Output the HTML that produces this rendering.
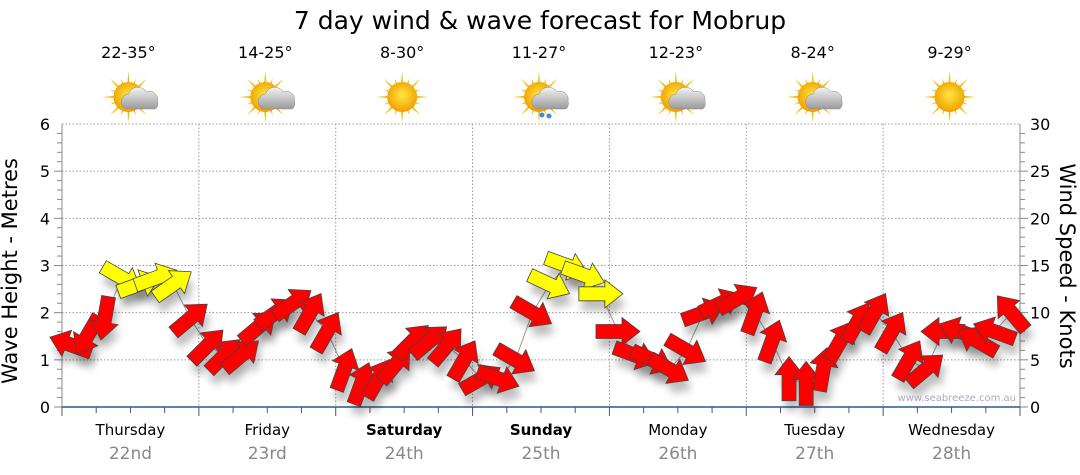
<!DOCTYPE html>
<html><head><meta charset="utf-8"><style>
body{margin:0;background:#fff;font-family:"DejaVu Sans","Liberation Sans",sans-serif;}
svg{display:block}
</style></head><body>
<svg id="c" width="1080" height="475">
<defs>
<filter id="sh" x="-50%" y="-50%" width="200%" height="200%"><feGaussianBlur stdDeviation="4"/></filter>
<radialGradient id="sun" cx="50%" cy="45%" r="55%"><stop offset="0" stop-color="#ffe640"/><stop offset="1" stop-color="#f0a000"/></radialGradient>
<linearGradient id="cl" x1="0" y1="0" x2="0" y2="1"><stop offset="0" stop-color="#f4f4f4"/><stop offset="1" stop-color="#9a9a9a"/></linearGradient>
</defs>
<text x="540" y="29" text-anchor="middle" font-size="25" fill="#000">7 day wind &amp; wave forecast for Mobrup</text>
<g id="grid"></g><g id="axes"></g><g id="icons"></g><g id="marks"></g>
<text x="12" y="266" transform="rotate(-90 17 266)" text-anchor="middle" font-size="21">Wave Height - Metres</text>
<text x="1060" y="266" transform="rotate(90 1060 266)" text-anchor="middle" font-size="21">Wind Speed - Knots</text>
<text x="1016" y="401" text-anchor="end" font-size="10" fill="#aab">www.seabreeze.com.au</text>
</svg>
<script>
const days=["Thursday","Friday","Saturday","Sunday","Monday","Tuesday","Wednesday"];
const dates=["22nd","23rd","24th","25th","26th","27th","28th"];
const temps=["22-35°","14-25°","8-30°","11-27°","12-23°","8-24°","9-29°"];
const icons=["cloud","cloud","sun","rain","cloud","cloud","sun"];
const leftTicks=[0,1,2,3,4,5,6];
const rightTicks=[0,5,10,15,20,25,30];
const windSpeed=[6.6,7.6,9.4,13.7,13,13.7,13,9.4, 6.5,5.5,5.5,8.5,10,11,10,8, 4,2.5,3,4.5,7,7,6.5,5, 3,3,5,10,13,15,14,12, 8,5.5,5,4,6,10,11,11.5, 10,7,3,2.5,4,7,9,10, 8,5,4,8,8,7,8,10];
const windDir=[200,120,100,30,-20,-20,-35,-40, -45,-45,-40,-40,-35,-35,-60,-60, -70,-70,-60,-50,-45,-40,-50,-60, -30,20,30,30,25,20,20,0, 0,20,25,30,30,-20,-25,-30, -70,-70,-90,-90,-80,-60,-60,-60, -60,-60,-40,180,200,210,200,230];
const X0=62,X1=1020,Y0=407,Y1=124,DW=(X1-X0)/7;
const ym=v=>Y0-(v/6)*(Y0-Y1), yk=v=>Y0-(v/30)*(Y0-Y1), xi=i=>X0+(i+0.5)*DW/8;
const NS="http://www.w3.org/2000/svg";
function mk(t,a,p){const e=document.createElementNS(NS,t);for(const k in a)e.setAttribute(k,a[k]);p.appendChild(e);return e;}
const g=document.getElementById('grid'),ax=document.getElementById('axes'),ic=document.getElementById('icons'),mg=document.getElementById('marks');
leftTicks.forEach((v,i)=>{const y=ym(v);
 if(v>0){const l=mk('line',{x1:X0,x2:X1,y1:y,y2:y,stroke:'#999','stroke-dasharray':'1.5,2'},g);}
 const t=mk('text',{x:50,y:y+6,'text-anchor':'end','font-size':16},ax);t.textContent=v;
 for(let m=0;m<5&&v<6;m++){const yy=ym(v+m*0.2);mk('line',{x1:X0-(m?5:8),x2:X0,y1:yy,y2:yy,stroke:'#888'},ax);}
});
rightTicks.forEach(v=>{const y=yk(v);const t=mk('text',{x:1030,y:y+6,'font-size':16},ax);t.textContent=v;
 for(let m=0;m<5&&v<30;m++){const yy=yk(v+m);mk('line',{x1:X1,x2:X1+(m?5:8),y1:yy,y2:yy,stroke:'#888'},ax);}});
mk('line',{x1:X0,x2:X0,y1:Y1,y2:Y0,stroke:'#888'},ax);mk('line',{x1:X1,x2:X1,y1:Y1,y2:Y0,stroke:'#888'},ax);
mk('line',{x1:X0,x2:X1,y1:Y0,y2:Y0,stroke:'#2a5a8a','stroke-width':1.5},ax);
for(let i=0;i<=28;i++){const x=X0+i*DW/4;mk('line',{x1:x,x2:x,y1:Y0,y2:Y0+(i%4?6:9),stroke:'#555'},ax);}
days.forEach((d,i)=>{const cx=X0+(i+0.5)*DW;
 if(i>0){const l=mk('line',{x1:X0+i*DW,x2:X0+i*DW,y1:Y1,y2:Y0,stroke:'#999','stroke-dasharray':'1.5,2'},g);}
 const t=mk('text',{x:cx,y:435,'text-anchor':'middle','font-size':15,'font-weight':(i==2||i==3)?'bold':'normal'},ax);t.textContent=d;
 const t2=mk('text',{x:cx,y:459,'text-anchor':'middle','font-size':17,fill:'#888'},ax);t2.textContent=dates[i];
 const t3=mk('text',{x:cx-2,y:58,'text-anchor':'middle','font-size':16},ic);t3.textContent=temps[i];
 const gi=mk('g',{transform:`translate(${cx-2},97)`},ic);
 for(let r=0;r<16;r++){const a=r*Math.PI/8,L=r%2?20:26;mk('polygon',{points:`${Math.cos(a-0.12)*11},${Math.sin(a-0.12)*11} ${Math.cos(a)*L},${Math.sin(a)*L} ${Math.cos(a+0.12)*11},${Math.sin(a+0.12)*11}`,fill:'#f5b800'},gi);}
 mk('circle',{cx:0,cy:0,r:15,fill:'url(#sun)'},gi);
 if(icons[i]!='sun'){mk('path',{d:'M-6,14 a8,8 0 0 1 3,-15 a10,10 0 0 1 18,-2 a8,8 0 0 1 11,9 a7,7 0 0 1 -2,8 z',fill:'url(#cl)',stroke:'#888','stroke-width':0.5,transform:'translate(3,-2)'},gi);}
 if(icons[i]=='rain'){mk('circle',{cx:3,cy:18,r:2.5,fill:'#3a8ee0'},gi);mk('circle',{cx:10,cy:19,r:2.5,fill:'#3a8ee0'},gi);}
});
let pts=windSpeed.map((k,i)=>xi(i)+','+yk(k)).join(' ');
const pl=mk('polyline',{points:pts,fill:'none',stroke:'#999','stroke-width':1},mg);
const AP="-22,-7 4,-7 4,-14 22,0 4,14 4,7 -22,7";
windSpeed.forEach((k,i)=>{const x=xi(i),y=yk(k);
 mk('polygon',{points:AP,fill:'#000',opacity:0.25,filter:'url(#sh)',transform:`translate(${x+3},${y+10}) rotate(${windDir[i]})`},mg);
});
windSpeed.forEach((k,i)=>{const x=xi(i),y=yk(k);
 const a=mk('polygon',{points:AP,fill:k>=12?'#ffff00':'#ff0000',stroke:'#444','stroke-width':0.8,transform:`translate(${x},${y}) rotate(${windDir[i]})`},mg);
 
 
});
</script>
</body></html>
